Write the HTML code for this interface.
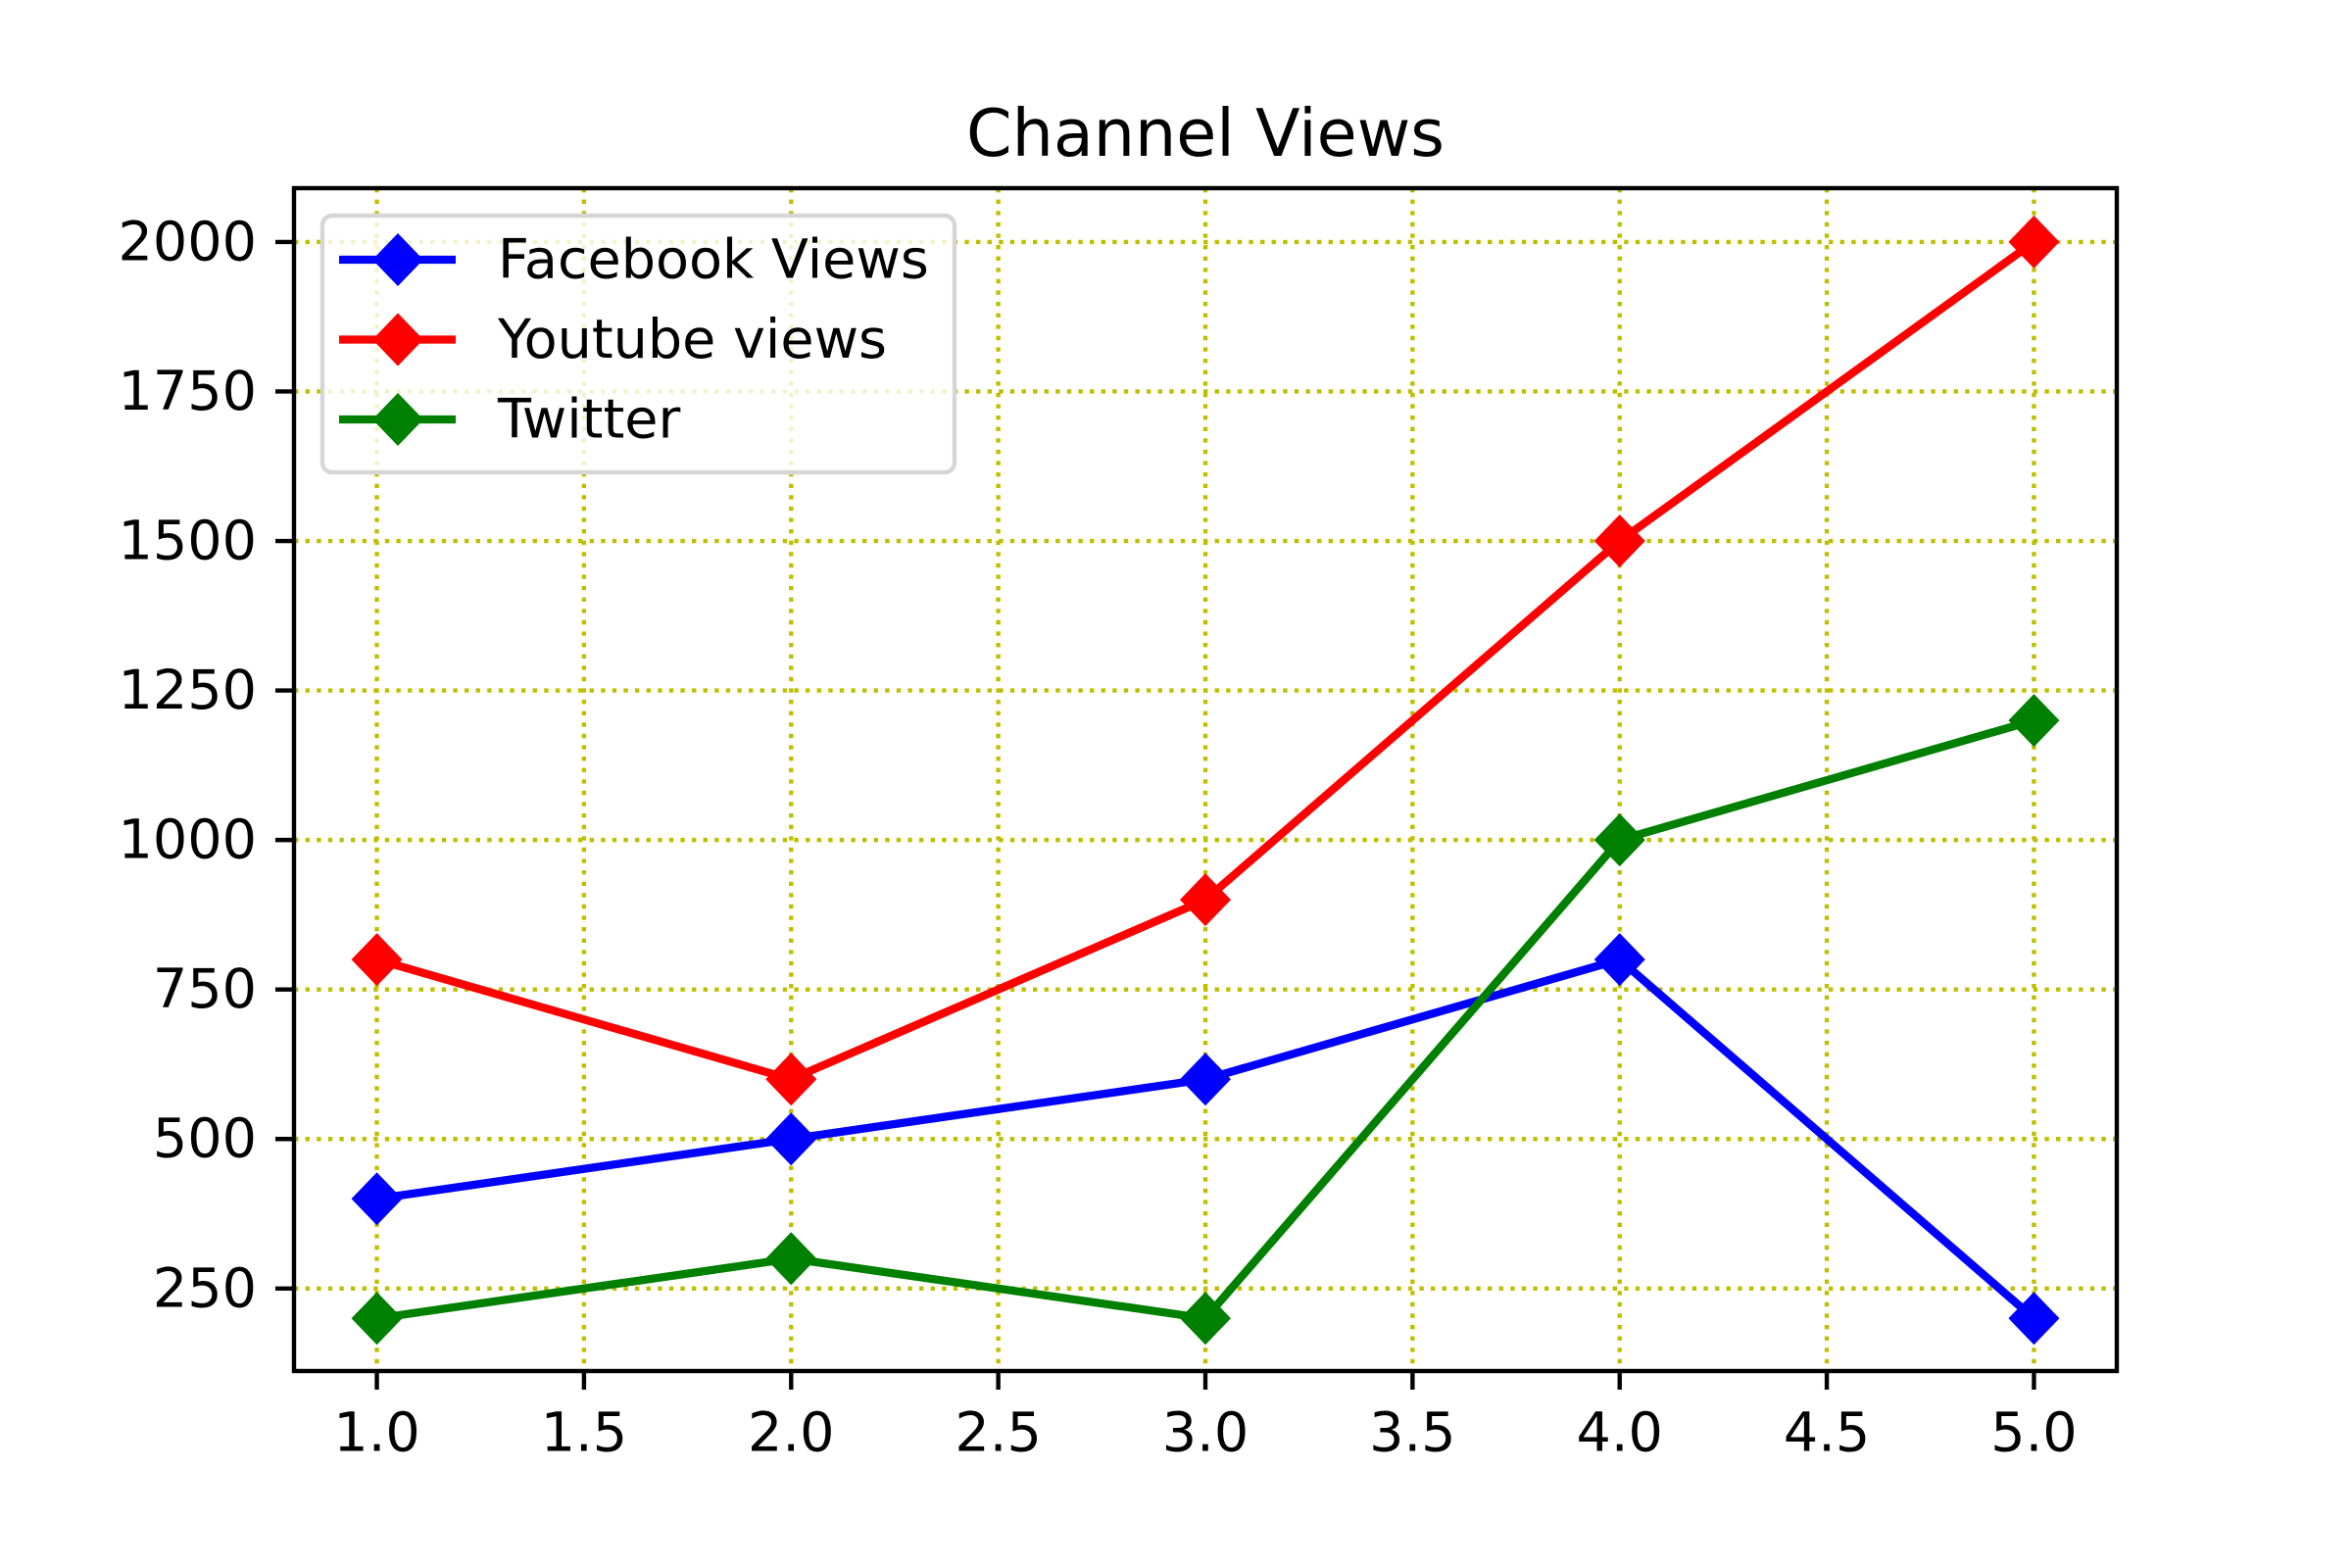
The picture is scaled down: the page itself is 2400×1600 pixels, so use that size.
<!DOCTYPE html>
<html><head><meta charset="utf-8"><style>html,body{margin:0;padding:0;background:#fff}svg{display:block}text{font-family:"DejaVu Sans","Liberation Sans",sans-serif;fill:#000}</style></head>
<body>
<svg id="chart" width="2400" height="1600" viewBox="0 0 2400 1600" xmlns="http://www.w3.org/2000/svg">
<rect width="2400" height="1600" fill="#fff"/>
<g id="grid"></g>
<g id="series"></g>
<rect x="300" y="192" width="1860" height="1207" fill="none" stroke="#000" stroke-width="4.4"/>
<g id="ticks"></g>
<text x="1230" y="136" font-size="66.7" text-anchor="middle" dominant-baseline="central">Channel Views</text>
<g id="legend"></g>
</svg>
<script>
const xValues = [1, 2, 3, 4, 5];
const facebook = [400, 500, 600, 800, 200];
const youtube = [800, 600, 900, 1500, 2000];
const twitter = [200, 300, 200, 1000, 1200];
const seriesNames = ["Facebook Views", "Youtube views", "Twitter"];
const xTicks = [1.0, 1.5, 2.0, 2.5, 3.0, 3.5, 4.0, 4.5, 5.0];
const yTicks = [250, 500, 750, 1000, 1250, 1500, 1750, 2000];

const NS = "http://www.w3.org/2000/svg";
const L = 300, R = 2160, T = 192, B = 1399;
const xMin = 0.8, xMax = 5.2, yMin = 112, yMax = 2090;
const sx = v => L + (v - xMin) / (xMax - xMin) * (R - L);
const sy = v => B - (v - yMin) / (yMax - yMin) * (B - T);
function mk(tag, attrs, parent) {
  const e = document.createElementNS(NS, tag);
  for (const k in attrs) e.setAttribute(k, attrs[k]);
  parent.appendChild(e);
  return e;
}
const grid = document.getElementById('grid');
const ticks = document.getElementById('ticks');
xTicks.forEach(t => {
  const x = sx(t);
  const g = mk('line', {x1: x, x2: x, y1: T, y2: B, stroke: '#bfbf00', 'stroke-width': 4.4, 'stroke-dasharray': '4.4 7.2'}, grid);
  
  
  const tk = mk('line', {x1: x, x2: x, y1: B, y2: B + 19, stroke: '#000', 'stroke-width': 4.4}, ticks);
  
  
  const tx = mk('text', {x: x, y: 1462, 'font-size': 55.6, 'text-anchor': 'middle', 'dominant-baseline': 'central'}, ticks);
  tx.textContent = t.toFixed(1);
  
  
});
yTicks.forEach(t => {
  const y = sy(t);
  const g = mk('line', {x1: L, x2: R, y1: y, y2: y, stroke: '#bfbf00', 'stroke-width': 4.4, 'stroke-dasharray': '4.4 7.2'}, grid);
  
  
  const tk = mk('line', {x1: L - 19, x2: L, y1: y, y2: y, stroke: '#000', 'stroke-width': 4.4}, ticks);
  
  
  const tx = mk('text', {x: 262, y: y, 'font-size': 55.6, 'text-anchor': 'end', 'dominant-baseline': 'central'}, ticks);
  tx.textContent = String(t);
  
  
});
function diamond(cx, cy, color, parent) {
  return mk('polygon', {points: `${cx},${cy-27} ${cx+26},${cy} ${cx},${cy+27} ${cx-26},${cy}`, fill: color}, parent);
}
const series = document.getElementById('series');
const allSeries = [facebook, youtube, twitter];
const colors = ['#0000ff', '#ff0000', '#008000'];
allSeries.forEach((vals, i) => {
  const pts = vals.map((v, j) => sx(xValues[j]) + ',' + sy(v)).join(' ');
  const pl = mk('polyline', {points: pts, fill: 'none', stroke: colors[i], 'stroke-width': 8.3, 'stroke-linejoin': 'round'}, series);
  
  
  vals.forEach((v, j) => {
    const d = diamond(sx(xValues[j]), sy(v), colors[i], series);
    
    
  });
});
const legend = document.getElementById('legend');
const box = mk('rect', {x: 329, y: 220, width: 645, height: 262, rx: 10, fill: '#fff', 'fill-opacity': 0.8, stroke: '#d6d6d6', 'stroke-width': 4.4}, legend);


seriesNames.forEach((n, i) => {
  const y = 265 + i * 81.5;
  const ln = mk('line', {x1: 346, x2: 465, y1: y, y2: y, stroke: colors[i], 'stroke-width': 8.3}, legend);
  
  
  const d = diamond(406, y, colors[i], legend);
  
  
  const t = mk('text', {x: 508, y: y, 'font-size': 55.6, 'dominant-baseline': 'central'}, legend);
  t.textContent = n;
  
  
});
</script>
</body></html>
